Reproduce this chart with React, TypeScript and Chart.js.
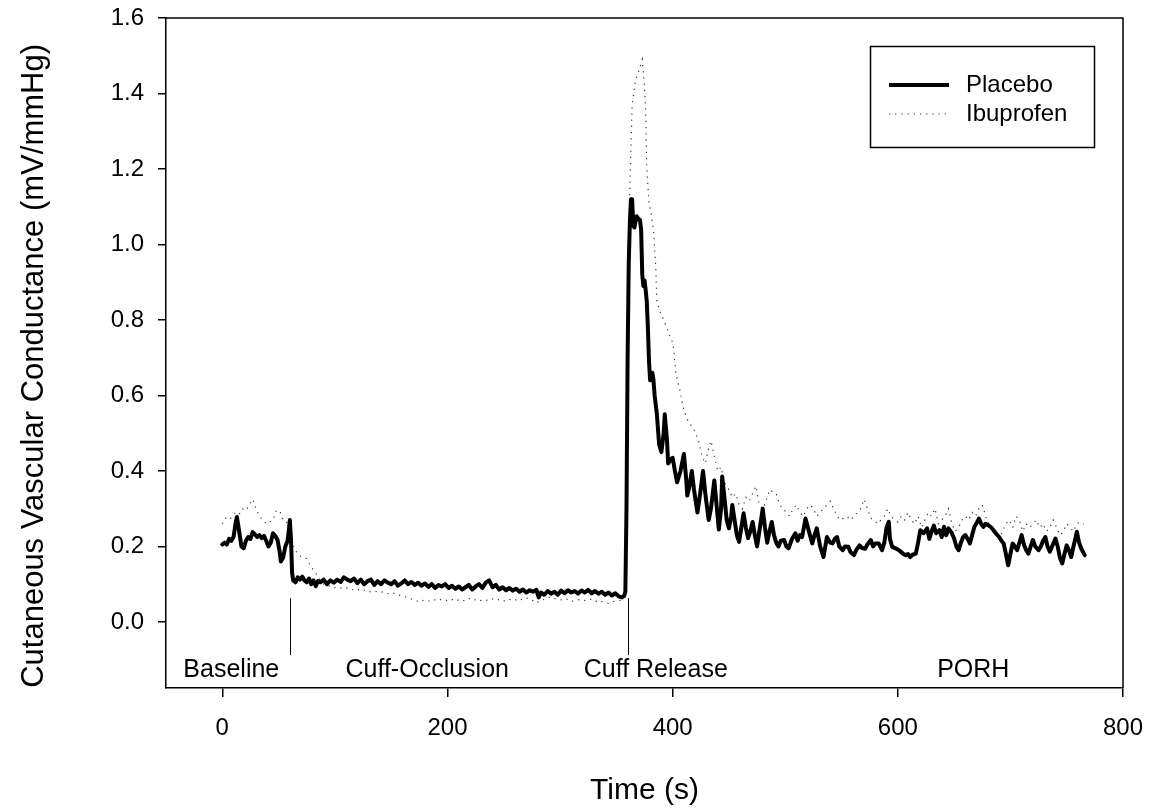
import React, { useEffect, useRef } from 'react';
import { Chart, registerables } from 'chart.js';

Chart.register(...registerables);

const FONT = '"Liberation Sans", Arial, Helvetica, sans-serif';

const xTicks = [0, 200, 400, 600, 800];
const yTicks = [0, 0.2, 0.4, 0.6, 0.8, 1.0, 1.2, 1.4, 1.6];
const xTitle = 'Time (s)';
const yTitle = 'Cutaneous Vascular Conductance (mV/mmHg)';
const seriesNames = ['Placebo', 'Ibuprofen'];
const phaseLabels = ['Baseline', 'Cuff-Occlusion', 'Cuff Release', 'PORH'];
const phaseLabelTimes = [8, 182, 385, 667];
const phaseMarkers = [60, 360];

// [time (s), conductance]
const placebo: [number, number][] = [
  [0, 0.205], [2, 0.21], [4, 0.205], [6, 0.22], [8, 0.215], [10, 0.225], [12, 0.265], [13, 0.278],
  [15, 0.24], [17, 0.2], [19, 0.195], [21, 0.215], [23, 0.225], [25, 0.22], [27, 0.238], [29, 0.232],
  [31, 0.225], [33, 0.23], [35, 0.222], [37, 0.228], [39, 0.215], [41, 0.2], [43, 0.21], [45, 0.235],
  [47, 0.228], [49, 0.218], [51, 0.185], [52, 0.16], [54, 0.17], [56, 0.2], [58, 0.215], [59, 0.24],
  [60, 0.27], [61, 0.22], [62, 0.13], [63, 0.11], [65, 0.105], [67, 0.118], [69, 0.112], [71, 0.12],
  [73, 0.11], [75, 0.105], [77, 0.115], [79, 0.1], [81, 0.11], [83, 0.095], [85, 0.108], [87, 0.105],
  [90, 0.112], [93, 0.1], [96, 0.11], [99, 0.104], [102, 0.112], [105, 0.106], [108, 0.118], [111, 0.112],
  [114, 0.108], [117, 0.115], [120, 0.103], [123, 0.112], [126, 0.1], [129, 0.108], [132, 0.112], [135, 0.098],
  [138, 0.108], [141, 0.1], [144, 0.11], [147, 0.104], [150, 0.1], [153, 0.108], [156, 0.096], [159, 0.102],
  [162, 0.11], [165, 0.1], [168, 0.106], [171, 0.098], [174, 0.104], [177, 0.096], [180, 0.102], [183, 0.093],
  [186, 0.1], [189, 0.09], [192, 0.098], [195, 0.094], [198, 0.1], [201, 0.09], [204, 0.096], [207, 0.088],
  [210, 0.094], [213, 0.086], [216, 0.092], [219, 0.098], [222, 0.086], [225, 0.094], [228, 0.1], [231, 0.09],
  [234, 0.104], [237, 0.11], [240, 0.092], [243, 0.098], [246, 0.086], [249, 0.092], [252, 0.084], [255, 0.09],
  [258, 0.083], [261, 0.088], [264, 0.08], [267, 0.086], [270, 0.078], [273, 0.084], [276, 0.08], [279, 0.085],
  [281, 0.065], [283, 0.078], [286, 0.072], [289, 0.082], [292, 0.075], [295, 0.08], [298, 0.072], [301, 0.083],
  [304, 0.076], [307, 0.084], [310, 0.078], [313, 0.082], [316, 0.075], [319, 0.083], [322, 0.078], [325, 0.085],
  [328, 0.076], [331, 0.082], [334, 0.075], [337, 0.08], [340, 0.072], [343, 0.078], [346, 0.07], [349, 0.076],
  [352, 0.068], [355, 0.065], [357, 0.07], [358, 0.08], [359, 0.3], [360, 0.7], [361, 0.95], [362, 1.06],
  [363, 1.12], [364, 1.12], [365, 1.05], [366, 1.045], [367, 1.06], [368, 1.075], [369, 1.07], [371, 1.065],
  [372, 1.04], [373, 0.92], [374, 0.89], [375, 0.905], [376, 0.88], [377, 0.85], [378, 0.78], [379, 0.69],
  [380, 0.64], [382, 0.66], [383, 0.64], [384, 0.6], [386, 0.55], [388, 0.47], [390, 0.45], [392, 0.5],
  [393, 0.55], [395, 0.48], [396, 0.42], [398, 0.43], [400, 0.435], [402, 0.4], [404, 0.37], [407, 0.4],
  [410, 0.445], [412, 0.38], [413, 0.335], [415, 0.36], [417, 0.4], [419, 0.35], [422, 0.29], [424, 0.33],
  [427, 0.4], [429, 0.34], [432, 0.27], [434, 0.3], [437, 0.375], [439, 0.31], [441, 0.245], [443, 0.3],
  [444, 0.385], [446, 0.33], [448, 0.27], [450, 0.248], [452, 0.28], [453, 0.31], [455, 0.27], [457, 0.23],
  [459, 0.212], [461, 0.25], [463, 0.288], [465, 0.25], [467, 0.222], [469, 0.24], [471, 0.265], [473, 0.23],
  [475, 0.2], [477, 0.24], [480, 0.3], [482, 0.25], [484, 0.21], [486, 0.24], [488, 0.265], [490, 0.23],
  [492, 0.21], [494, 0.2], [496, 0.215], [499, 0.217], [501, 0.2], [503, 0.195], [506, 0.22], [509, 0.235],
  [511, 0.215], [513, 0.23], [515, 0.225], [518, 0.274], [521, 0.24], [524, 0.208], [526, 0.23], [528, 0.248],
  [531, 0.2], [534, 0.172], [537, 0.225], [540, 0.21], [542, 0.208], [544, 0.22], [546, 0.225], [548, 0.2],
  [551, 0.19], [553, 0.2], [556, 0.199], [558, 0.185], [561, 0.177], [563, 0.19], [566, 0.203], [568, 0.196],
  [571, 0.194], [573, 0.205], [576, 0.217], [578, 0.2], [580, 0.208], [583, 0.208], [586, 0.19], [588, 0.21],
  [590, 0.25], [592, 0.265], [593, 0.22], [595, 0.199], [598, 0.195], [601, 0.19], [603, 0.185], [605, 0.18],
  [607, 0.177], [609, 0.18], [611, 0.172], [613, 0.178], [616, 0.181], [618, 0.21], [620, 0.243], [623, 0.235],
  [626, 0.248], [628, 0.22], [630, 0.24], [632, 0.255], [634, 0.235], [637, 0.243], [639, 0.225], [641, 0.252],
  [643, 0.23], [645, 0.248], [648, 0.235], [650, 0.221], [652, 0.2], [654, 0.19], [656, 0.21], [658, 0.225],
  [660, 0.23], [662, 0.22], [664, 0.208], [666, 0.23], [668, 0.252], [670, 0.262], [672, 0.274], [674, 0.26],
  [676, 0.252], [678, 0.26], [681, 0.255], [683, 0.25], [685, 0.243], [687, 0.235], [690, 0.225], [692, 0.215],
  [694, 0.208], [696, 0.18], [698, 0.15], [700, 0.18], [702, 0.208], [704, 0.2], [706, 0.19], [708, 0.21],
  [710, 0.23], [712, 0.205], [714, 0.19], [716, 0.181], [718, 0.2], [720, 0.217], [722, 0.2], [725, 0.19],
  [727, 0.2], [729, 0.215], [731, 0.225], [733, 0.2], [735, 0.186], [737, 0.2], [740, 0.221], [742, 0.2],
  [744, 0.17], [746, 0.155], [748, 0.18], [750, 0.203], [752, 0.19], [754, 0.172], [756, 0.2], [758, 0.225],
  [759, 0.239], [761, 0.21], [763, 0.194], [766, 0.177],
];

const ibuprofen: [number, number][] = [
  [0, 0.26], [3, 0.275], [6, 0.27], [9, 0.28], [12, 0.29], [15, 0.285], [18, 0.3], [21, 0.295],
  [24, 0.31], [27, 0.325], [30, 0.3], [33, 0.28], [36, 0.27], [39, 0.26], [42, 0.265], [45, 0.27],
  [48, 0.295], [51, 0.295], [54, 0.27], [57, 0.265], [60, 0.24], [63, 0.2], [66, 0.185], [69, 0.175],
  [72, 0.17], [75, 0.168], [78, 0.15], [81, 0.137], [84, 0.125], [87, 0.11], [90, 0.1], [93, 0.097],
  [96, 0.094], [99, 0.09], [103, 0.093], [107, 0.088], [111, 0.09], [115, 0.085], [119, 0.088], [123, 0.082],
  [127, 0.085], [131, 0.08], [135, 0.082], [139, 0.078], [143, 0.08], [147, 0.075], [151, 0.078], [155, 0.072],
  [159, 0.07], [163, 0.066], [167, 0.062], [171, 0.058], [175, 0.053], [179, 0.058], [183, 0.055], [187, 0.06],
  [191, 0.056], [195, 0.06], [199, 0.057], [203, 0.061], [207, 0.055], [211, 0.06], [215, 0.056], [219, 0.062],
  [223, 0.057], [227, 0.061], [231, 0.055], [235, 0.058], [239, 0.062], [243, 0.057], [247, 0.06], [251, 0.055],
  [255, 0.06], [259, 0.056], [263, 0.062], [267, 0.058], [271, 0.063], [275, 0.058], [279, 0.05], [283, 0.058],
  [287, 0.06], [291, 0.066], [295, 0.062], [299, 0.06], [303, 0.057], [307, 0.061], [311, 0.055], [315, 0.058],
  [319, 0.06], [323, 0.056], [327, 0.06], [331, 0.054], [335, 0.057], [339, 0.052], [343, 0.049], [347, 0.054],
  [351, 0.056], [355, 0.058], [358, 0.065], [360, 0.5], [362, 1.15], [364, 1.37], [367, 1.435], [370, 1.46],
  [373, 1.49], [375, 1.42], [376, 1.36], [377, 1.2], [379, 1.11], [381, 1.08], [383, 1.04], [385, 0.94],
  [386, 0.85], [389, 0.82], [392, 0.8], [396, 0.77], [400, 0.74], [401, 0.72], [403, 0.655], [406, 0.62],
  [410, 0.56], [414, 0.53], [419, 0.51], [423, 0.48], [426, 0.44], [429, 0.42], [432, 0.46], [434, 0.48],
  [437, 0.44], [440, 0.4], [443, 0.41], [446, 0.37], [450, 0.35], [453, 0.33], [456, 0.34], [459, 0.31],
  [462, 0.3], [465, 0.33], [468, 0.32], [471, 0.34], [474, 0.36], [477, 0.31], [480, 0.3], [483, 0.32],
  [486, 0.35], [489, 0.345], [492, 0.34], [495, 0.31], [498, 0.3], [501, 0.29], [504, 0.28], [507, 0.3],
  [510, 0.31], [513, 0.29], [516, 0.28], [519, 0.3], [522, 0.31], [525, 0.3], [528, 0.28], [531, 0.29],
  [534, 0.3], [537, 0.31], [540, 0.32], [543, 0.3], [546, 0.28], [549, 0.27], [552, 0.275], [555, 0.28],
  [558, 0.27], [561, 0.28], [564, 0.29], [567, 0.3], [570, 0.325], [573, 0.3], [576, 0.275], [579, 0.27],
  [582, 0.26], [585, 0.27], [588, 0.28], [591, 0.3], [594, 0.28], [597, 0.27], [600, 0.265], [603, 0.28],
  [606, 0.27], [609, 0.29], [612, 0.27], [615, 0.26], [618, 0.28], [621, 0.25], [624, 0.27], [627, 0.29],
  [630, 0.28], [633, 0.3], [636, 0.26], [639, 0.27], [642, 0.28], [645, 0.3], [648, 0.26], [651, 0.24],
  [654, 0.25], [657, 0.27], [660, 0.28], [663, 0.27], [666, 0.29], [669, 0.28], [672, 0.3], [675, 0.31],
  [678, 0.28], [681, 0.26], [684, 0.25], [687, 0.23], [690, 0.22], [693, 0.24], [696, 0.26], [699, 0.27],
  [702, 0.25], [705, 0.28], [708, 0.27], [711, 0.24], [714, 0.26], [717, 0.25], [720, 0.26], [723, 0.27],
  [726, 0.25], [729, 0.26], [732, 0.24], [735, 0.25], [738, 0.27], [741, 0.25], [744, 0.23], [747, 0.24],
  [750, 0.26], [753, 0.25], [756, 0.24], [759, 0.26], [762, 0.265], [765, 0.26],
];

const W = 1150;
const H = 809;

const overlayPlugin = {
  id: 'overlay',
  afterDraw(chart: any) {
    const { ctx, chartArea: a, scales } = chart;
    const xs = scales.x;
    const ys = scales.y;
    ctx.save();
    // frame (top + right)
    ctx.strokeStyle = '#000';
    ctx.lineWidth = 1.5;
    ctx.beginPath();
    ctx.moveTo(a.left, a.top);
    ctx.lineTo(a.right, a.top);
    ctx.lineTo(a.right, a.bottom);
    ctx.stroke();

    // phase marker lines
    ctx.lineWidth = 1;
    ctx.beginPath();
    phaseMarkers.forEach((t) => {
      const x = Math.round(xs.getPixelForValue(t)) + 0.5;
      ctx.moveTo(x, ys.getPixelForValue(0.063));
      ctx.lineTo(x, ys.getPixelForValue(-0.088));
    });
    ctx.stroke();

    // phase labels
    ctx.fillStyle = '#000';
    ctx.font = `25px ${FONT}`;
    ctx.textAlign = 'center';
    ctx.textBaseline = 'middle';
    phaseLabels.forEach((s, i) => {
      ctx.fillText(s, xs.getPixelForValue(phaseLabelTimes[i]), ys.getPixelForValue(-0.128));
    });

    // legend
    const bx = 870.5, by = 46.5, bw = 224, bh = 101;
    ctx.lineWidth = 1.5;
    ctx.strokeRect(bx, by, bw, bh);
    const rows = [85, 114];
    chart.data.datasets.forEach((ds: any, i: number) => {
      const y = rows[i];
      ctx.save();
      ctx.strokeStyle = ds.borderColor;
      ctx.lineWidth = ds.borderWidth;
      ctx.setLineDash(ds.borderDash || []);
      ctx.beginPath();
      ctx.moveTo(889, y);
      ctx.lineTo(949, y);
      ctx.stroke();
      ctx.restore();
      ctx.fillStyle = '#000';
      ctx.textAlign = 'left';
      ctx.textBaseline = 'middle';
      ctx.font = `24px ${FONT}`;
      ctx.fillText(ds.label, 966, y);
    });
    ctx.restore();
  },
};

export default function App() {
  const canvasRef = useRef<HTMLCanvasElement | null>(null);

  useEffect(() => {
    const canvas = canvasRef.current;
    if (!canvas) return;
    const chart = new Chart(canvas, {
      type: 'line',
      data: {
        datasets: [
          {
            label: seriesNames[0],
            data: placebo.map(([x, y]) => ({ x, y })),
            borderColor: '#000',
            borderWidth: 4,
            pointRadius: 0,
            tension: 0,
            fill: false,
            borderJoinStyle: 'round',
            borderCapStyle: 'round',
          },
          {
            label: seriesNames[1],
            data: ibuprofen.map(([x, y]) => ({ x, y })),
            borderColor: '#333',
            borderWidth: 1.2,
            borderDash: [1.2, 5],
            pointRadius: 0,
            tension: 0,
            fill: false,
          },
        ],
      },
      options: {
        responsive: false,
        animation: false,
        devicePixelRatio: 1,
        layout: { padding: { top: 18, right: 27, bottom: 0, left: 0 } },
        plugins: {
          legend: { display: false },
          tooltip: { enabled: false },
        },
        scales: {
          x: {
            type: 'linear',
            min: -50,
            max: 800,
            afterBuildTicks: (scale: any) => {
              scale.ticks = xTicks.map((value) => ({ value }));
            },
            afterFit: (scale: any) => {
              scale.height = 121;
              scale.paddingLeft = 0;
              scale.paddingRight = 0;
            },
            ticks: {
              color: '#000',
              font: { family: FONT, size: 24 },
              padding: 17,
              maxRotation: 0,
              autoSkip: false,
              callback: (v: any) => String(v),
            },
            grid: {
              display: true,
              drawOnChartArea: false,
              drawTicks: true,
              tickLength: 9,
              color: '#000',
              lineWidth: 1.5,
            },
            border: { display: true, color: '#000', width: 1.5 },
            title: {
              display: true,
              text: xTitle,
              color: '#000',
              font: { family: FONT, size: 30 },
              padding: { top: 0, bottom: 0 },
            },
          },
          y: {
            type: 'linear',
            min: -0.175,
            max: 1.6,
            afterBuildTicks: (scale: any) => {
              scale.ticks = yTicks.map((value) => ({ value }));
            },
            afterFit: (scale: any) => {
              scale.width = 166;
              scale.paddingTop = 0;
              scale.paddingBottom = 0;
            },
            ticks: {
              color: '#000',
              font: { family: FONT, size: 24 },
              padding: 14,
              autoSkip: false,
              callback: (v: any) => Number(v).toFixed(1),
            },
            grid: {
              display: true,
              drawOnChartArea: false,
              drawTicks: true,
              tickLength: 8,
              color: '#000',
              lineWidth: 1.5,
            },
            border: { display: true, color: '#000', width: 1.5 },
            title: {
              display: true,
              text: yTitle + '   ',
              color: '#000',
              font: { family: FONT, size: 31 },
              padding: { top: 16, bottom: 0 },
            },
          },
        },
      },
      plugins: [overlayPlugin],
    } as any);
    return () => chart.destroy();
  }, []);

  return (
    <div style={{ position: 'absolute', left: 0, top: 0, width: W, height: H, background: '#fff' }}>
      <canvas ref={canvasRef} width={W} height={H} style={{ display: 'block', width: W, height: H }} />
    </div>
  );
}
